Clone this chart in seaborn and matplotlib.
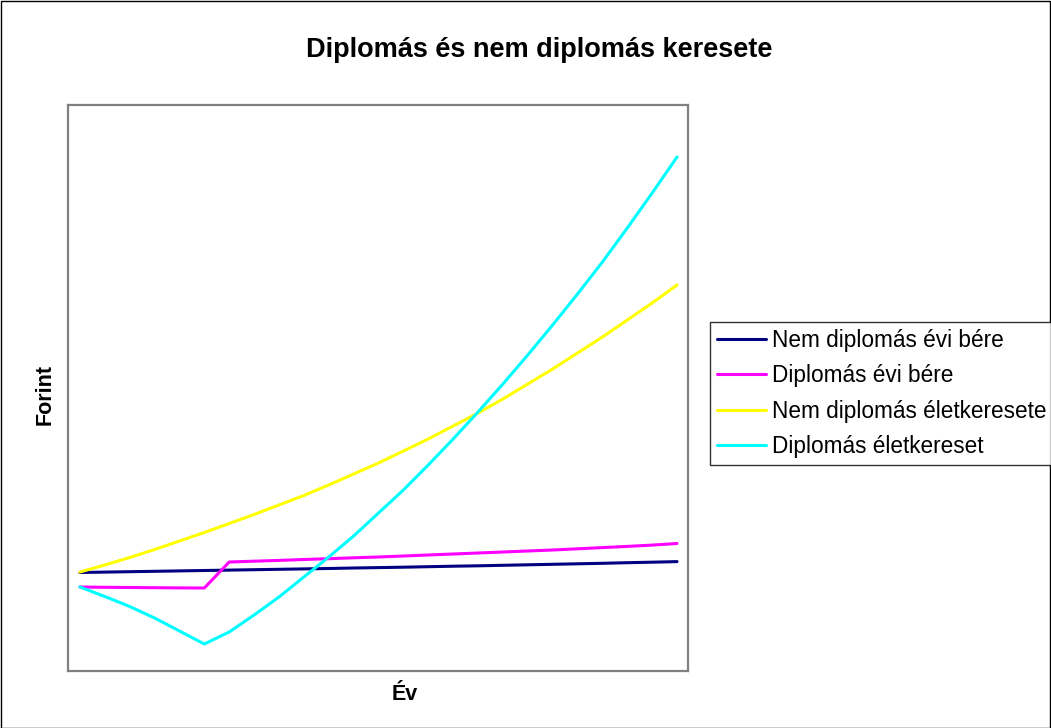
import numpy as np
import pandas as pd
import matplotlib.pyplot as plt
import seaborn as sns
from matplotlib.patches import Rectangle

# ── Data (arbitrary Forint units) ─────────────────────────────
years = list(range(25))

nem_dipl_ber = [98.5, 98.9, 99.3, 99.7, 100.1, 100.5, 100.9, 101.3, 101.7, 102.1,
                102.5, 103.0, 103.4, 103.8, 104.3, 104.8, 105.2, 105.7, 106.2, 106.7,
                107.2, 107.7, 108.3, 108.8, 109.4]

dipl_ber = [84.0, 83.7, 83.5, 83.3, 83.1, 83.0, 109.0, 109.8, 110.6, 111.5,
            112.3, 113.2, 114.0, 115.0, 116.0, 117.0, 118.0, 119.0, 120.0, 121.0,
            122.2, 123.4, 124.6, 125.9, 127.5]

nem_dipl_elet = [99.0, 106.0, 113.5, 121.5, 130.0, 138.5, 147.5, 156.5, 166.0, 175.5,
                 186.0, 197.0, 208.0, 220.0, 232.0, 245.0, 258.0, 272.0, 287.0, 302.0,
                 318.0, 334.0, 351.0, 368.0, 386.0]

dipl_elet = [84.0, 74.5, 64.5, 53.0, 40.0, 27.0, 39.0, 56.0, 74.0, 94.0,
             114.0, 135.0, 158.0, 181.0, 206.0, 232.0, 259.0, 287.0, 316.0, 346.0,
             377.0, 409.0, 443.0, 478.0, 514.0]

series_names = ["Nem diplomás évi bére", "Diplomás évi bére",
                "Nem diplomás életkeresete", "Diplomás életkereset"]
series_colors = ["#000080", "#FF00FF", "#FFFF00", "#00FFFF"]

# ── Long format for seaborn ──────────────────────────────────
df = pd.concat([
    pd.DataFrame({"Év": years, "Forint": vals, "Sorozat": name})
    for name, vals in zip(series_names, [nem_dipl_ber, dipl_ber, nem_dipl_elet, dipl_elet])
])

sns.set_style("white")
plt.rcParams["font.family"] = ["Liberation Sans", "DejaVu Sans"]
plt.rcParams["text.color"] = "black"

W, H = 1051, 728
fig = plt.figure(figsize=(W / 100, H / 100), dpi=100)
ax = fig.add_axes([68 / W, (H - 671) / H, 620 / W, 566 / H])

sns.lineplot(data=df, x="Év", y="Forint", hue="Sorozat",
             palette=dict(zip(series_names, series_colors)),
             hue_order=series_names, linewidth=2.2, ax=ax, legend=False)

ax.set_xlim(-0.48, 24.44)
ax.set_ylim(0, 566)
ax.set_xticks([])
ax.set_yticks([])
ax.set_xlabel("")
ax.set_ylabel("")
for sp in ax.spines.values():
    sp.set_color("#808080")
    sp.set_linewidth(1.6)

# ── Texts ────────────────────────────────────────────────────
fig.text(539 / W, 1 - 50 / H, "Diplomás és nem diplomás keresete",
         ha="center", va="center", fontsize=19.5, fontweight="bold", color="black")
fig.text(45 / W, 1 - 395 / H, "Forint", rotation=90,
         ha="center", va="center", fontsize=15.5, fontweight="bold", color="black")
fig.text(405 / W, 1 - 695 / H, "Év",
         ha="center", va="center", fontsize=15.5, fontweight="bold", color="black")

# ── Legend ───────────────────────────────────────────────────
handles = [plt.Line2D([], [], color=c, linewidth=2.2) for c in series_colors]
leg = fig.legend(handles, series_names, loc="upper left",
                 bbox_to_anchor=(710 / W, 1 - 322 / H), borderaxespad=0,
                 fontsize=16.3, frameon=True, fancybox=False, edgecolor="black",
                 handlelength=2.17, handletextpad=0.27, labelspacing=0.55,
                 borderpad=0.3)
leg.get_frame().set_linewidth(1.0)
for t in leg.get_texts():
    t.set_color("black")

# outer chart border
fig.patches.append(Rectangle((0.5 / W, 0.5 / H), 1 - 1.5 / W, 1 - 1.5 / H,
                             transform=fig.transFigure, fill=False,
                             edgecolor="black", linewidth=1.0))

plt.savefig("out.png", dpi=100)
